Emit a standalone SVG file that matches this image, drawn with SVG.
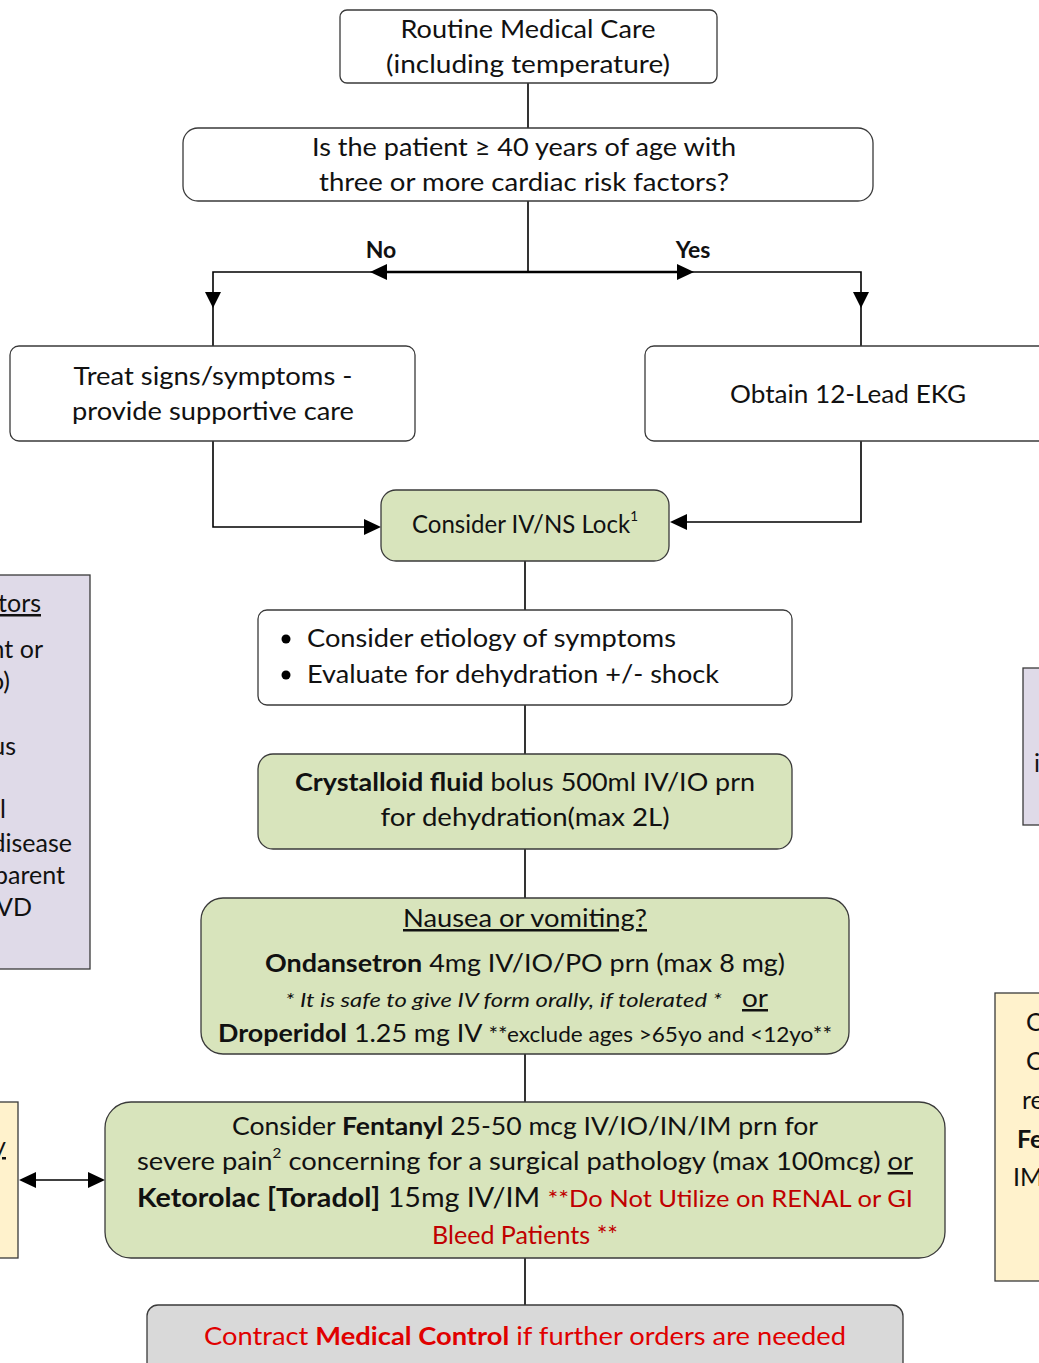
<svg xmlns="http://www.w3.org/2000/svg" width="1039" height="1363" viewBox="0 0 1039 1363">
  <style>
    text { font-family: Lato, "Open Sans", "Liberation Sans", sans-serif; fill: #111; }
    .t { font-size: 25px; }
    .box { stroke: #3a3a3a; stroke-width: 1.3; }
    .white { fill: #ffffff; }
    .green { fill: #d8e4bc; }
    .gray { fill: #d9d9d9; }
    .lav { fill: #dfdae8; }
    .cream { fill: #fff2cc; }
    .line { fill: none; stroke: #000; stroke-width: 1.6; }
    .thick { fill: none; stroke: #000; stroke-width: 2.6; }
    .head { fill: #000; }
    .b { font-weight: bold; }
    .red { fill: #e00000; }
    .dred { fill: #c00000; }
    .u { text-decoration: underline; }
  </style>

  <!-- side panels, partially in view -->
  <g id="side-risk-factors">
    <rect class="box lav" x="-10" y="575" width="100" height="394"/>
    <text class="t" x="41" y="612" text-anchor="end"><tspan class="u">tors</tspan></text>
    <text class="t" x="43" y="658" text-anchor="end">nt or</text>
    <text class="t" x="10" y="690" text-anchor="end">o)</text>
    <text class="t" x="16" y="755" text-anchor="end">us</text>
    <text class="t" x="6" y="818" text-anchor="end">l</text>
    <text class="t" x="72" y="852" text-anchor="end">disease</text>
    <text class="t" x="65" y="884" text-anchor="end">parent</text>
    <text class="t" x="32" y="916" text-anchor="end">VD</text>
  </g>
  <g id="side-right-lav">
    <rect class="box lav" x="1023" y="668" width="30" height="157"/>
    <text class="t" x="1034" y="772">i</text>
  </g>
  <g id="side-right-cream">
    <rect class="box cream" x="995" y="993" width="60" height="288"/>
    <text class="t" x="1026" y="1031">C</text>
    <text class="t" x="1026" y="1070">C</text>
    <text class="t" x="1022" y="1109">re</text>
    <text class="t b" x="1017" y="1148">Fe</text>
    <text class="t" x="1013" y="1186">IM</text>
  </g>
  <g id="side-left-cream">
    <rect class="box cream" x="-10" y="1102" width="28" height="156"/>
    <text class="t" x="6" y="1155" text-anchor="end"><tspan class="u">y</tspan></text>
  </g>

  <!-- connectors -->
  <g id="connectors">
    <path class="line" d="M528 83 V128"/>
    <path class="line" d="M528 201 V272"/>
    <path class="thick" d="M380 272 H685"/>
    <path class="line" d="M380 272 H213 V346"/>
    <path class="line" d="M685 272 H861 V346"/>
    <polygon class="head" points="370,272 387,264 387,280"/>
    <polygon class="head" points="694,272 677,264 677,280"/>
    <polygon class="head" points="213,308 205,292 221,292"/>
    <polygon class="head" points="861,308 853,292 869,292"/>
    <path class="line" d="M213 441 V527 H370"/>
    <polygon class="head" points="381,527 364,519 364,535"/>
    <path class="line" d="M861 441 V522 H682"/>
    <polygon class="head" points="670,522 687,514 687,530"/>
    <path class="line" d="M525 561 V610"/>
    <path class="line" d="M525 705 V754"/>
    <path class="line" d="M525 849 V898"/>
    <path class="line" d="M525 1054 V1102"/>
    <path class="line" d="M525 1258 V1305"/>
    <path class="line" d="M32 1180 H93"/>
    <polygon class="head" points="19,1180 36,1172 36,1188"/>
    <polygon class="head" points="105,1180 88,1172 88,1188"/>
  </g>

  <g id="routine-care">
    <rect class="box white" x="340" y="10" width="377" height="73" rx="7"/>
    <text class="t" x="528" y="38" text-anchor="middle" textLength="255" lengthAdjust="spacingAndGlyphs">Routine Medical Care</text>
    <text class="t" x="528" y="73" text-anchor="middle" textLength="284" lengthAdjust="spacingAndGlyphs">(including temperature)</text>
  </g>

  <g id="risk-question">
    <rect class="box white" x="183" y="128" width="690" height="73" rx="15"/>
    <text class="t" x="524" y="156" text-anchor="middle" textLength="424" lengthAdjust="spacingAndGlyphs">Is the patient ≥ 40 years of age with</text>
    <text class="t" x="524" y="191" text-anchor="middle" textLength="410" lengthAdjust="spacingAndGlyphs">three or more cardiac risk factors?</text>
  </g>

  <g id="branch-labels">
    <text class="b" x="381" y="258" text-anchor="middle" font-size="23">No</text>
    <text class="b" x="693" y="258" text-anchor="middle" font-size="23">Yes</text>
  </g>

  <g id="treat-symptoms">
    <rect class="box white" x="10" y="346" width="405" height="95" rx="9"/>
    <text class="t" x="213" y="385" text-anchor="middle" textLength="279" lengthAdjust="spacingAndGlyphs">Treat signs/symptoms -</text>
    <text class="t" x="213" y="420" text-anchor="middle" textLength="282" lengthAdjust="spacingAndGlyphs">provide supportive care</text>
  </g>

  <g id="obtain-ekg">
    <rect class="box white" x="645" y="346" width="410" height="95" rx="9"/>
    <text class="t" x="848" y="403" text-anchor="middle" textLength="236" lengthAdjust="spacingAndGlyphs">Obtain 12-Lead EKG</text>
  </g>

  <g id="iv-lock">
    <rect class="box green" x="381" y="490" width="288" height="71" rx="15"/>
    <text class="t" x="412" y="533" textLength="226" lengthAdjust="spacingAndGlyphs">Consider IV/NS Lock<tspan font-size="14" dy="-12">1</tspan></text>
  </g>

  <g id="etiology">
    <rect class="box white" x="258" y="610" width="534" height="95" rx="9"/>
    <circle cx="286" cy="639" r="4.5" fill="#000"/>
    <circle cx="286" cy="675" r="4.5" fill="#000"/>
    <text class="t" x="307" y="647" textLength="369" lengthAdjust="spacingAndGlyphs">Consider etiology of symptoms</text>
    <text class="t" x="307" y="683" textLength="412" lengthAdjust="spacingAndGlyphs">Evaluate for dehydration +/- shock</text>
  </g>

  <g id="crystalloid">
    <rect class="box green" x="258" y="754" width="534" height="95" rx="15"/>
    <text class="t" x="295" y="791" textLength="460" lengthAdjust="spacingAndGlyphs"><tspan class="b">Crystalloid fluid</tspan> bolus 500ml IV/IO prn</text>
    <text class="t" x="525" y="826" text-anchor="middle" textLength="289" lengthAdjust="spacingAndGlyphs">for dehydration(max 2L)</text>
  </g>

  <g id="antiemetic">
    <rect class="box green" x="201" y="898" width="648" height="156" rx="22"/>
    <text class="t u" x="525" y="927" text-anchor="middle" textLength="244" lengthAdjust="spacingAndGlyphs">Nausea or vomiting?</text>
    <text class="t" x="265" y="972" textLength="520" lengthAdjust="spacingAndGlyphs"><tspan class="b">Ondansetron</tspan> 4mg IV/IO/PO prn (max 8 mg)</text>
    <text x="285" y="1007" font-size="20" font-style="italic" textLength="437" lengthAdjust="spacingAndGlyphs">* It is safe to give IV form orally, if tolerated *</text>
    <text class="t u" x="742" y="1007" textLength="26" lengthAdjust="spacingAndGlyphs">or</text>
    <text class="t" x="218" y="1042" textLength="614" lengthAdjust="spacingAndGlyphs"><tspan class="b">Droperidol</tspan> 1.25 mg IV <tspan font-size="21">**exclude ages &gt;65yo and &lt;12yo**</tspan></text>
  </g>

  <g id="analgesia">
    <rect class="box green" x="105" y="1102" width="840" height="156" rx="26"/>
    <text class="t" x="232" y="1135" textLength="586" lengthAdjust="spacingAndGlyphs">Consider <tspan class="b">Fentanyl</tspan> 25-50 mcg IV/IO/IN/IM prn for</text>
    <text class="t" x="137" y="1170" textLength="776" lengthAdjust="spacingAndGlyphs">severe pain<tspan font-size="14" dy="-12">2</tspan><tspan dy="12"> concerning for a surgical pathology (max 100mcg) </tspan><tspan class="u">or</tspan></text>
    <text x="137" y="1207" font-size="27" textLength="776" lengthAdjust="spacingAndGlyphs"><tspan class="b">Ketorolac [Toradol]</tspan> 15mg IV/IM <tspan class="dred" font-size="24">**Do Not Utilize on RENAL or  GI</tspan></text>
    <text class="t dred" x="525" y="1244" text-anchor="middle" textLength="186" lengthAdjust="spacingAndGlyphs">Bleed Patients **</text>
  </g>

  <g id="medical-control">
    <rect class="box gray" x="147" y="1305" width="756" height="70" rx="11"/>
    <text class="t red" x="204" y="1345" textLength="642" lengthAdjust="spacingAndGlyphs">Contract <tspan class="b red">Medical Control</tspan> if further orders are needed</text>
  </g>
</svg>
